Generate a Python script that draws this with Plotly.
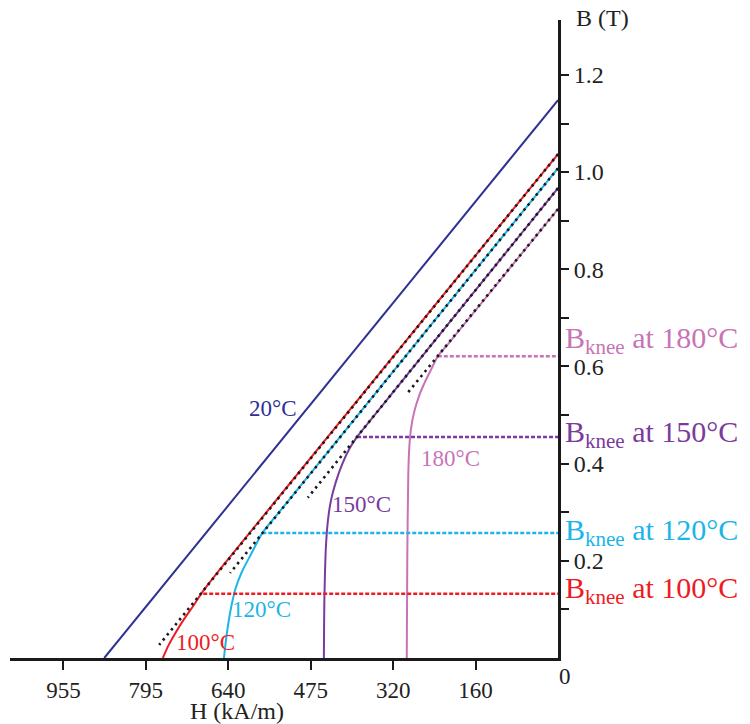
import plotly.graph_objects as go

FONT = "Liberation Serif"

# ---- data (H in kA/m, B in T) ----
temps = ["20°C", "100°C", "120°C", "150°C", "180°C"]
colors = ["#2e3192", "#ed1c24", "#1cb5e8", "#7a3b9c", "#c774b6"]

H_20 = [0, 876]
B_20 = [1.148, 0.0]
H_100 = [0, 650, 685, 705, 722, 740, 752, 763]
B_100 = [1.037, 0.186, 0.138, 0.106, 0.080, 0.049, 0.026, 0.0]
H_120 = [0, 540, 571, 592, 610, 622, 630, 636, 641, 645]
B_120 = [1.008, 0.298, 0.257, 0.215, 0.178, 0.145, 0.110, 0.075, 0.037, 0.0]
H_150 = [0, 360, 388, 403, 417, 429, 438, 444, 448, 451, 452]
B_150 = [0.967, 0.492, 0.455, 0.430, 0.398, 0.362, 0.326, 0.285, 0.230, 0.120, 0.0]
H_180 = [0, 210, 232, 243, 256, 268, 278, 284, 287, 289, 291, 292]
B_180 = [0.924, 0.649, 0.621, 0.598, 0.570, 0.540, 0.505, 0.470, 0.435, 0.380, 0.200, 0.0]

# linear (recoil) fits, black dotted
fit_H = {"100°C": [0, 770], "120°C": [0, 633], "150°C": [0, 483], "180°C": [0, 290]}
fit_B = {"100°C": [1.037, 0.027], "120°C": [1.008, 0.175], "150°C": [0.967, 0.330], "180°C": [0.924, 0.546]}

# knee points
knee_H = {"100°C": 685, "120°C": 571, "150°C": 388, "180°C": 232}
knee_B = {"100°C": 0.132, "120°C": 0.257, "150°C": 0.455, "180°C": 0.621}

# curve label positions (H, B)
label_H = {"20°C": 550, "100°C": 681, "120°C": 572, "150°C": 380, "180°C": 208}
label_B = {"20°C": 0.514, "100°C": 0.031, "120°C": 0.100, "150°C": 0.315, "180°C": 0.411}

# axis ticks (kA/m), placed at 2..12 kOe
x_tickvals = [159.15, 318.3, 477.5, 636.6, 795.8, 954.9]
x_ticktext = ["160", "320", "475", "640", "795", "955"]
y_tickvals = [0.1, 0.2, 0.3, 0.4, 0.5, 0.6, 0.7, 0.8, 0.9, 1.0, 1.1, 1.2]
y_ticktext = ["", "0.2", "", "0.4", "", "0.6", "", "0.8", "", "1.0", "", "1.2"]

curves = {"20°C": (H_20, B_20), "100°C": (H_100, B_100), "120°C": (H_120, B_120),
          "150°C": (H_150, B_150), "180°C": (H_180, B_180)}
cmap = dict(zip(temps, colors))

fig = go.Figure()

# solid demagnetisation curves
for t in temps:
    H, B = curves[t]
    fig.add_trace(go.Scatter(x=H, y=B, mode="lines",
                             line=dict(color=cmap[t], width=2, shape="spline", smoothing=0.7),
                             hoverinfo="skip", showlegend=False, cliponaxis=False))

# horizontal knee lines
for t in temps[1:]:
    fig.add_trace(go.Scatter(x=[knee_H[t], 0], y=[knee_B[t], knee_B[t]], mode="lines",
                             line=dict(color=cmap[t], width=2.5, dash="4px,2px"),
                             hoverinfo="skip", showlegend=False))

# black dotted linear fits
for t in temps[1:]:
    fig.add_trace(go.Scatter(x=fit_H[t], y=fit_B[t], mode="lines",
                             line=dict(color="#1a1a1a", width=2.6, dash="2.5px,4px"),
                             hoverinfo="skip", showlegend=False))

annotations = []
for t in temps:
    annotations.append(dict(x=label_H[t], y=label_B[t], xref="x", yref="y", text=t,
                            showarrow=False, font=dict(family=FONT, size=23, color=cmap[t]),
                            xanchor="center", yanchor="middle"))

knee_label_y = {"100°C": 0.139, "120°C": 0.259, "150°C": 0.461, "180°C": 0.655}
for t in temps[1:]:
    annotations.append(dict(x=0, y=knee_label_y[t], xref="x", yref="y",
                            text="B<sub>knee</sub> at " + t, showarrow=False,
                            font=dict(family=FONT, size=30, color=cmap[t]),
                            xanchor="left", yanchor="middle", xshift=5))

annotations.append(dict(x=0, y=0, xref="x", yref="y", text="0", showarrow=False,
                        font=dict(family=FONT, size=23, color="#222"),
                        xanchor="left", yanchor="top", xshift=-1, yshift=-4))
annotations.append(dict(x=0, y=1.313, xref="x", yref="y", text="B (T)", showarrow=False,
                        font=dict(family=FONT, size=24, color="#222"),
                        xanchor="left", yanchor="middle", xshift=16, yshift=2))
annotations.append(dict(x=620, y=0, xref="x", yref="y", text="H (kA/m)", showarrow=False,
                        font=dict(family=FONT, size=24, color="#222"),
                        xanchor="center", yanchor="middle", yshift=-53))

fig.update_layout(
    width=750, height=724,
    margin=dict(l=10, r=192, t=20, b=66),
    paper_bgcolor="white", plot_bgcolor="white",
    showlegend=False,
    annotations=annotations,
    xaxis=dict(range=[1058, 0], showgrid=False, zeroline=False,
               showline=True, linecolor="#1a1a1a", linewidth=3,
               ticks="outside", ticklen=9, tickwidth=2, tickcolor="#1a1a1a",
               tickvals=x_tickvals, ticktext=x_ticktext,
               tickfont=dict(family=FONT, size=23, color="#222")),
    yaxis=dict(range=[0, 1.313], side="right", showgrid=False, zeroline=False,
               showline=True, linecolor="#1a1a1a", linewidth=3,
               ticks="outside", ticklen=8, tickwidth=2, tickcolor="#1a1a1a",
               tickvals=y_tickvals, ticktext=y_ticktext,
               tickfont=dict(family=FONT, size=24, color="#222")),
)

fig.write_html("out.html")
